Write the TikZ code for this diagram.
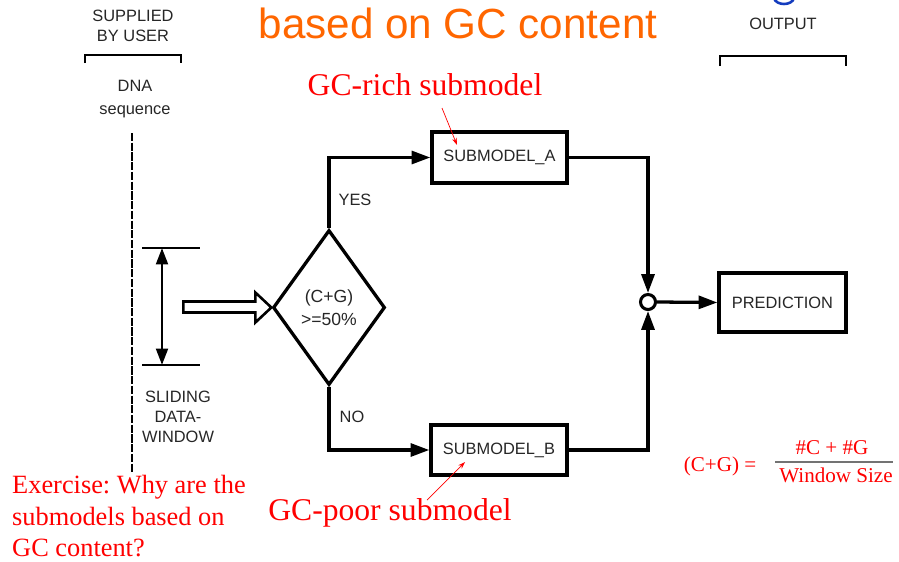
\documentclass[tikz,border=0pt]{standalone}
\usepackage{fontspec}
\setmainfont{Liberation Serif}
\newfontfamily\arialfont{Liberation Sans}
\usetikzlibrary{arrows.meta,shapes.geometric}
\definecolor{titleorange}{RGB}{255,102,0}
\definecolor{logoblue}{RGB}{20,60,190}
\frenchspacing

\begin{document}
\begin{tikzpicture}[x=0.03cm, y=-0.03cm,
    lbl/.style={font=\arialfont\fontsize{14}{17}\selectfont, text=black!85, align=center, inner sep=0pt},
    box/.style={draw, line width=2.8pt, inner sep=0pt, font=\arialfont\fontsize{14}{17}\selectfont, text=black!85},
    conn/.style={line width=2.8pt, -{Triangle[length=16pt,width=11pt]}},
    note/.style={text=red, font=\fontsize{27}{30}\selectfont, inner sep=0pt},
    pointer/.style={red, line width=0.6pt, -{Stealth[length=6pt,width=4pt]}}]
    \useasboundingbox (0,0) rectangle (899,561);
    % headings
    \node[font=\arialfont\fontsize{36}{40}\selectfont, text=titleorange, inner sep=0pt] (title) at (458,23) {based on GC content};
    \draw[logoblue, line width=2.2pt] (774,-2) .. controls (776,6) and (792,6) .. (794,-2);
    \node[lbl] (supplied) at (133,26) {SUPPLIED\\BY USER}; \node[lbl] (output) at (783,24) {OUTPUT};
    \draw[line width=2.4pt] (85,63)--(85,55)--(181,55)--(181,63); \draw[line width=2.4pt] (720,66)--(720,56)--(846,56)--(846,66);
    % input side
    \node[lbl] (dna) at (135,99) {DNA\\[2pt]sequence};
    \coordinate (seqtop) at (132,133); \coordinate (seqbot) at (132,472);
    \draw[line width=2.4pt, dash pattern=on 7pt off 1.3pt] (seqtop) -- (seqbot);
    \foreach \y/\n in {248/wtop,365/wbot} {\coordinate (\n) at (162,\y); \draw[line width=2.2pt] (142,\y) -- (200,\y);}
    \draw[line width=2.4pt, {Triangle[length=14pt,width=10pt]}-{Triangle[length=14pt,width=10pt]}] (wtop) -- (wbot);
    \node[lbl] (sliding) at (178,417) {SLIDING\\DATA-\\WINDOW};
    % decision and submodels
    \node[draw, diamond, line width=2.8pt, minimum width=3.36cm, minimum height=4.65cm, inner sep=0pt, align=center,
        font=\arialfont\fontsize{15}{20}\selectfont, text=black!85] (dec) at (329,307.5) {(C+G)\\>=50\%};
    \draw[line width=2.2pt, fill=white] (dec.west) -- ++(-16,-15) -- ++(0,9) -- ++(-72,0) -- ++(0,11) -- ++(72,0) -- ++(0,10) -- cycle;
    \node[box, minimum width=4.05cm, minimum height=1.53cm] (subA) at (499.5,157.5) {SUBMODEL\_A};
    \node[box, minimum width=4.08cm, minimum height=1.5cm] (subB) at (499,450) {SUBMODEL\_B};
    \node[circle, draw, line width=2.6pt, minimum size=0.45cm, inner sep=0pt] (join) at (648,302) {};
    \node[box, minimum width=3.81cm, minimum height=1.77cm] (pred) at (782.5,302.5) {PREDICTION};
    \draw[conn] (dec.north) |- (subA.west); \draw[conn] (dec.south) |- (subB.west);
    \draw[conn] (subA.east) -| (join.north); \draw[conn] (subB.east) -| (join.south);
    \draw[conn] (join.east) -- (pred.west);
    \node[lbl] (yes) at (355,200) {YES}; \node[lbl] (no) at (352,417) {NO};
    % red notes
    \node[note, anchor=base] (rich) at (425,95) {GC-rich submodel};
    \node[note, anchor=base] (poor) at (390,520) {GC-poor submodel};
    \coordinate (richfoot) at (442,108); \coordinate (richtip) at (457,145);
    \coordinate (poorfoot) at (427,500); \coordinate (poortip) at (465,462);
    \draw[pointer] (richfoot) -- (richtip); \draw[pointer] (poorfoot) -- (poortip);
    \node[note, font=\fontsize{22.5}{27}\selectfont, align=left, anchor=north west] (exercise) at (12,475) {Exercise: Why are the\\submodels based on\\GC content?};
    % window formula
    \node[note, font=\fontsize{18}{20}\selectfont] (cg) at (720,466) {(C+G) =};
    \node[note, font=\fontsize{18}{20}\selectfont] (num) at (832,448) {\#C + \#G};
    \node[note, font=\fontsize{18}{20}\selectfont] (den) at (836,475) {Window Size};
    \draw[black!55, line width=1pt] (775,462) -- (893,462);
\end{tikzpicture}
\end{document}
